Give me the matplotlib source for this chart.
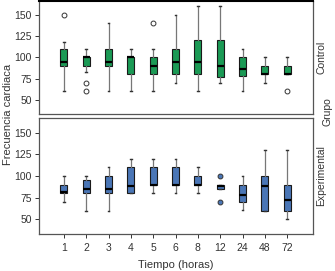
import matplotlib
matplotlib.use("Agg")
import matplotlib.pyplot as plt

plt.rcParams["font.family"] = ["Liberation Sans", "DejaVu Sans"]

times = ["1", "2", "3", "4", "5", "6", "8", "12", "24", "48", "72"]

# control group (top panel)
ctl_low = [60, 83, 60, 60, 60, 70, 60, 70, 60, 70, 80]
ctl_q1 = [90, 90, 90, 80, 80, 80, 80, 77, 78, 80, 80]
ctl_med = [95, 100, 95, 100, 90, 95, 95, 90, 86, 80, 80]
ctl_q3 = [110, 100, 110, 100, 100, 110, 120, 120, 100, 90, 90]
ctl_high = [118, 110, 140, 110, 110, 150, 160, 160, 110, 100, 100]
ctl_out = [[150], [70, 60], [], [], [140], [], [], [], [], [], [60]]

# experimental group (bottom panel)
exp_low = [70, 60, 60, 80, 80, 80, 80, 85, 61, 60, 50]
exp_q1 = [80, 80, 80, 80, 90, 90, 90, 85, 70, 60, 60]
exp_med = [81, 85, 85, 88, 90, 90, 90, 89, 78, 88, 72]
exp_q3 = [90, 95, 100, 110, 110, 110, 100, 90, 90, 100, 90]
exp_high = [100, 100, 110, 120, 120, 120, 110, 90, 100, 130, 130]
exp_out = [[], [], [], [], [], [], [], [100, 70], [], [], []]

GREEN = "#1b9a55"
BLUE = "#4a76b6"
FRAME = "#555555"
TXT = "#333333"


def stats(low, q1, med, q3, high, out):
    return [dict(whislo=a, q1=b, med=c, q3=d, whishi=e, fliers=f)
            for a, b, c, d, e, f in zip(low, q1, med, q3, high, out)]


def panel(ax, st, color, label):
    pos = list(range(len(times)))
    ax.bxp(st, positions=pos, widths=0.32, patch_artist=True,
           boxprops=dict(facecolor=color, edgecolor="#1a1a1a", lw=0.8),
           medianprops=dict(color="black", lw=1.6),
           whiskerprops=dict(color="#777777", lw=0.9),
           capprops=dict(color="#333333", lw=1.0),
           capwidths=0.08,
           flierprops=dict(marker="o", markersize=3.5,
                           markerfacecolor="white" if color == GREEN else color,
                           markeredgecolor="#333333", markeredgewidth=0.7))
    ax.set_xlim(-1.12, 11.15)
    ax.set_ylim(33, 167)
    ax.set_yticks([50, 75, 100, 125, 150])
    ax.tick_params(axis="y", labelsize=7.5, colors=TXT, length=3, width=0.7, pad=2)
    for s in ax.spines.values():
        s.set_color(FRAME)
        s.set_linewidth(0.9)
    ax.text(1.03, 0.5, label, transform=ax.transAxes, rotation=90,
            ha="center", va="center", fontsize=7.5, color=TXT)


fig = plt.figure(figsize=(3.35, 2.71), dpi=100)
ax1 = fig.add_axes([0.116, 0.579, 0.818, 0.419])
ax2 = fig.add_axes([0.116, 0.1365, 0.818, 0.428])

panel(ax1, stats(ctl_low, ctl_q1, ctl_med, ctl_q3, ctl_high, ctl_out), GREEN, "Control")
panel(ax2, stats(exp_low, exp_q1, exp_med, exp_q3, exp_high, exp_out), BLUE, "Experimental")

ax1.spines["top"].set_color("black")
ax1.spines["top"].set_linewidth(1.5)
ax1.set_xticks([])
ax2.set_xticks(range(len(times)))
ax2.set_xticklabels(times)
ax2.tick_params(axis="x", labelsize=7.5, colors=TXT, length=3, width=0.7)
ax2.set_xlabel("Tiempo (horas)", fontsize=8, color=TXT, labelpad=5)

fig.text(0.024, 0.576, "Frecuencia cardiaca", rotation=90, ha="center",
         va="center", fontsize=8, color=TXT)
fig.text(0.978, 0.587, "Grupo", rotation=90, ha="center", va="center",
         fontsize=7.5, color=TXT)

fig.savefig("out.png", dpi=100)
